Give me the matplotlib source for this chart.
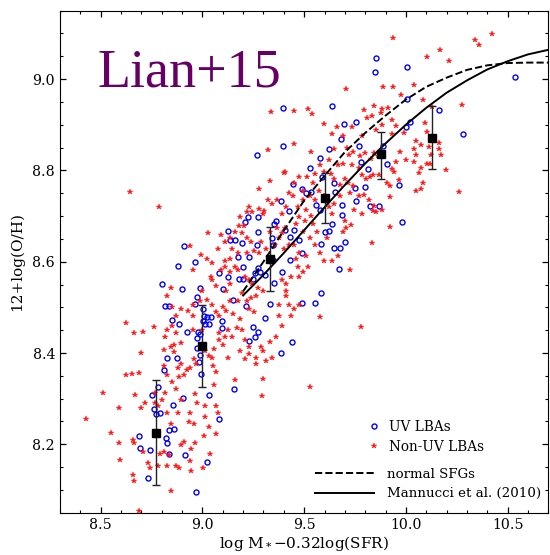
import matplotlib
matplotlib.use('Agg')
import matplotlib.pyplot as plt
from matplotlib.ticker import MultipleLocator

plt.rcParams['font.family'] = 'serif'
plt.rcParams['font.serif'] = ['DejaVu Serif']
plt.rcParams['mathtext.fontset'] = 'dejavuserif'

# UV LBAs (blue open circles)
uv_x = [9.855, 9.847, 10.004, 10.538, 9.638, 9.396, 10.007, 10.165, 9.756, 9.698,
        9.999, 10.018, 10.281, 9.679, 9.396, 9.769, 9.887, 9.624, 9.576, 9.266,
        9.780, 9.907, 9.816, 9.527, 9.799, 9.590, 9.645, 9.968, 9.751, 9.444,
        9.487, 9.511, 9.533, 9.650, 9.557, 9.580, 9.687, 9.754, 9.824, 9.870,
        9.388, 9.274, 9.224, 9.210, 9.427, 9.362, 9.352, 9.408, 9.448, 9.639,
        9.687, 9.982, 9.124, 9.134, 9.162, 9.193, 9.429, 9.477, 9.621, 9.604,
        9.340, 9.274, 9.269, 9.699, 9.585, 9.645, 9.674, 9.491, 9.348, 8.912,
        8.962, 8.882, 9.174, 9.231, 9.272, 9.285, 9.258, 9.392, 9.432, 9.672,
        9.345, 9.200, 9.126, 9.179, 9.306, 9.200, 9.249, 9.350, 8.803, 9.080,
        9.100, 8.900, 8.986, 8.974, 9.583, 9.148, 9.213, 9.331, 9.487, 9.554,
        8.818, 8.834, 8.963, 9.003, 9.010, 9.025, 9.041, 8.849, 9.309, 9.001,
        9.015, 9.095, 9.032, 9.095, 8.883, 8.926, 9.251, 9.274, 9.259, 8.977,
        8.989, 8.972, 9.231, 9.439, 8.825, 8.873, 8.974, 8.986, 8.981, 9.386,
        8.813, 8.994, 8.784, 9.157, 8.753, 9.034, 8.907, 8.763, 8.856, 8.772,
        8.794, 9.080, 8.835, 8.859, 8.822, 8.828, 8.686, 8.692, 8.743, 8.834,
        8.914, 9.024, 8.731, 8.967]
uv_y = [9.045, 9.015, 9.026, 9.005, 8.942, 8.936, 8.956, 8.932, 8.907, 8.901,
        8.896, 8.905, 8.880, 8.868, 8.854, 8.854, 8.854, 8.847, 8.826, 8.833,
        8.818, 8.815, 8.804, 8.805, 8.763, 8.786, 8.772, 8.768, 8.762, 8.770,
        8.759, 8.751, 8.752, 8.752, 8.725, 8.713, 8.725, 8.733, 8.721, 8.721,
        8.733, 8.697, 8.698, 8.687, 8.710, 8.689, 8.683, 8.669, 8.670, 8.683,
        8.703, 8.687, 8.668, 8.648, 8.648, 8.642, 8.653, 8.648, 8.668, 8.665,
        8.651, 8.664, 8.637, 8.644, 8.639, 8.630, 8.630, 8.620, 8.637, 8.635,
        8.600, 8.591, 8.610, 8.610, 8.587, 8.578, 8.576, 8.578, 8.604, 8.583,
        8.604, 8.588, 8.566, 8.562, 8.570, 8.561, 8.561, 8.553, 8.552, 8.575,
        8.540, 8.540, 8.543, 8.523, 8.532, 8.517, 8.503, 8.507, 8.509, 8.509,
        8.503, 8.503, 8.507, 8.497, 8.482, 8.478, 8.478, 8.473, 8.477, 8.471,
        8.463, 8.470, 8.463, 8.455, 8.463, 8.446, 8.457, 8.445, 8.436, 8.446,
        8.442, 8.432, 8.426, 8.424, 8.390, 8.390, 8.410, 8.396, 8.380, 8.400,
        8.363, 8.353, 8.326, 8.322, 8.307, 8.308, 8.302, 8.277, 8.287, 8.266,
        8.268, 8.255, 8.232, 8.234, 8.214, 8.204, 8.218, 8.191, 8.188, 8.179,
        8.176, 8.162, 8.127, 8.096]

# Non-UV LBAs (red stars)
nuv_x = [10.421, 10.339, 10.358, 9.935, 10.168, 10.106, 10.213, 10.041, 9.935, 9.887,
         9.704, 10.274, 9.976, 10.082, 10.127, 9.520, 9.452, 9.337, 9.540, 9.597,
         9.793, 9.845, 9.884, 9.879, 9.913, 9.930, 9.663, 9.734, 9.811, 9.833,
         9.853, 9.884, 9.953, 10.093, 10.106, 9.932, 9.990, 9.636, 9.691, 9.785,
         9.322, 9.452, 10.050, 10.076, 10.113, 9.973, 10.038, 10.050, 10.165, 10.161,
         10.172, 10.122, 9.536, 9.648, 9.713, 9.720, 9.742, 9.776, 9.797, 9.828,
         9.845, 9.862, 9.953, 9.999, 10.038, 10.076, 10.062, 10.196, 10.119, 10.102,
         9.622, 9.665, 9.691, 9.734, 9.768, 9.786, 9.802, 9.824, 9.838, 9.870,
         9.930, 9.942, 9.905, 9.922, 9.965, 10.050, 10.084, 10.076, 10.260, 9.922,
         9.884, 9.845, 9.922, 9.833, 9.725, 9.408, 9.452, 9.477, 9.494, 9.515,
         9.545, 9.554, 9.580, 9.597, 9.631, 9.648, 9.674, 9.699, 9.716, 9.742,
         9.725, 9.768, 9.793, 9.819, 9.836, 9.853, 9.785, 9.747, 9.699, 9.708,
         9.691, 9.730, 9.639, 9.622, 9.648, 9.674, 9.597, 9.571, 9.554, 9.528,
         9.494, 9.468, 9.511, 9.536, 9.443, 9.426, 9.409, 9.391, 9.477, 9.503,
         9.460, 9.494, 9.545, 9.562, 9.528, 9.554, 9.580, 9.597, 9.639, 9.665,
         9.614, 9.408, 9.391, 9.366, 9.331, 9.374, 9.357, 9.400, 9.426, 9.452,
         9.477, 9.460, 9.511, 9.468, 9.494, 9.520, 9.477, 9.434, 9.409, 9.391,
         9.409, 9.409, 9.374, 9.426, 9.452, 9.477, 9.434, 9.529, 9.580, 9.780,
         9.331, 9.366, 9.340, 9.322, 9.305, 9.280, 9.297, 9.228, 9.245, 9.219,
         9.186, 9.204, 9.180, 9.160, 9.134, 9.109, 9.092, 9.194, 9.219, 9.237,
         9.288, 9.314, 9.280, 9.254, 9.219, 9.143, 9.177, 9.134, 9.109, 9.160,
         9.177, 9.134, 9.211, 9.228, 9.245, 9.271, 9.297, 9.263, 9.237, 9.219,
         9.194, 9.177, 9.228, 9.254, 9.134, 9.118, 9.134, 9.100, 9.049, 9.041,
         9.066, 9.027, 8.994, 9.024, 9.049, 9.075, 9.092, 9.109, 8.953, 8.939,
         8.996, 8.987, 8.953, 9.024, 9.049, 9.066, 9.084, 9.118, 9.152, 9.186,
         9.169, 9.126, 9.109, 9.143, 9.100, 9.194, 9.211, 9.228, 9.186, 9.228,
         9.263, 9.288, 9.211, 9.297, 9.314, 9.340, 9.331, 9.263, 9.297, 9.294,
         9.362, 9.374, 9.391, 9.080, 9.084, 9.058, 9.049, 9.032, 9.015, 9.053,
         9.066, 9.126, 9.160, 8.958, 8.967, 8.941, 8.924, 8.895, 8.878, 8.861,
         8.887, 8.912, 8.895, 8.870, 8.852, 8.827, 8.818, 8.844, 8.810, 8.861,
         8.895, 8.870, 8.852, 8.930, 8.955, 8.998, 8.955, 8.844, 8.827, 8.963,
         8.972, 9.015, 8.941, 8.932, 8.958, 9.015, 9.032, 9.006, 9.058, 9.066,
         9.075, 9.066, 9.037, 8.963, 8.946, 8.912, 8.895, 8.941, 8.946, 9.003,
         8.870, 8.887, 8.827, 8.835, 8.847, 8.810, 8.878, 8.895, 8.870, 8.852,
         8.827, 8.810, 8.801, 8.818, 8.784, 8.827, 8.844, 8.767, 8.767, 8.791,
         8.784, 8.741, 8.734, 8.698, 8.707, 8.763, 8.656, 8.625, 8.667, 8.690,
         8.663, 8.625, 8.644, 8.787, 8.514, 8.591, 8.430, 8.553, 8.591, 8.596,
         8.659, 8.664, 8.716, 8.698, 8.657, 8.663, 8.690, 8.710, 9.401, 9.280]
nuv_y = [9.098, 9.086, 9.074, 9.089, 9.064, 9.049, 9.040, 8.988, 8.982, 8.982,
         8.978, 8.943, 8.966, 8.954, 8.938, 8.934, 8.930, 8.928, 8.923, 8.902,
         8.933, 8.942, 8.934, 8.925, 8.937, 8.911, 8.896, 8.896, 8.915, 8.919,
         8.888, 8.899, 8.897, 8.903, 8.884, 8.880, 8.882, 8.880, 8.876, 8.875,
         8.844, 8.857, 8.865, 8.856, 8.851, 8.841, 8.846, 8.834, 8.846, 8.861,
         8.834, 8.834, 8.841, 8.846, 8.850, 8.834, 8.841, 8.831, 8.838, 8.825,
         8.837, 8.831, 8.819, 8.823, 8.818, 8.805, 8.795, 8.801, 8.815, 8.813,
         8.823, 8.812, 8.815, 8.812, 8.806, 8.789, 8.781, 8.785, 8.790, 8.789,
         8.802, 8.796, 8.773, 8.766, 8.779, 8.754, 8.773, 8.760, 8.752, 8.741,
         8.713, 8.722, 8.677, 8.641, 8.582, 8.796, 8.773, 8.785, 8.754, 8.785,
         8.773, 8.792, 8.811, 8.796, 8.792, 8.781, 8.769, 8.781, 8.773, 8.766,
         8.750, 8.743, 8.746, 8.735, 8.712, 8.708, 8.704, 8.713, 8.689, 8.674,
         8.666, 8.681, 8.704, 8.720, 8.727, 8.743, 8.743, 8.754, 8.735, 8.743,
         8.735, 8.720, 8.713, 8.701, 8.743, 8.750, 8.720, 8.704, 8.697, 8.689,
         8.682, 8.666, 8.682, 8.666, 8.651, 8.636, 8.620, 8.601, 8.601, 8.612,
         8.651, 8.674, 8.662, 8.674, 8.666, 8.651, 8.636, 8.628, 8.636, 8.636,
         8.620, 8.605, 8.612, 8.589, 8.578, 8.589, 8.566, 8.566, 8.551, 8.559,
         8.536, 8.524, 8.505, 8.505, 8.497, 8.505, 8.482, 8.325, 8.478, 8.457,
         8.776, 8.735, 8.727, 8.735, 8.712, 8.716, 8.704, 8.720, 8.708, 8.708,
         8.697, 8.678, 8.678, 8.666, 8.651, 8.643, 8.658, 8.662, 8.651, 8.643,
         8.643, 8.628, 8.620, 8.624, 8.620, 8.628, 8.620, 8.605, 8.601, 8.589,
         8.582, 8.578, 8.566, 8.559, 8.551, 8.543, 8.536, 8.524, 8.520, 8.513,
         8.532, 8.513, 8.497, 8.490, 8.551, 8.536, 8.513, 8.501, 8.559, 8.566,
         8.547, 8.662, 8.614, 8.605, 8.597, 8.628, 8.582, 8.589, 8.582, 8.635,
         8.536, 8.513, 8.505, 8.517, 8.505, 8.490, 8.482, 8.493, 8.486, 8.474,
         8.455, 8.451, 8.436, 8.436, 8.417, 8.451, 8.428, 8.413, 8.405, 8.398,
         8.390, 8.413, 8.386, 8.405, 8.382, 8.390, 8.425, 8.375, 8.344, 8.306,
         8.436, 8.482, 8.459, 8.444, 8.428, 8.409, 8.390, 8.394, 8.405, 8.371,
         8.359, 8.390, 8.341, 8.386, 8.375, 8.367, 8.363, 8.375, 8.367, 8.402,
         8.348, 8.352, 8.421, 8.444, 8.459, 8.451, 8.436, 8.413, 8.407, 8.417,
         8.497, 8.482, 8.501, 8.493, 8.482, 8.451, 8.451, 8.543, 8.524, 8.310,
         8.291, 8.284, 8.268, 8.249, 8.245, 8.260, 8.237, 8.218, 8.329, 8.284,
         8.268, 8.222, 8.179, 8.202, 8.190, 8.206, 8.199, 8.164, 8.141, 8.149,
         8.153, 8.149, 8.153, 8.176, 8.097, 8.184, 8.268, 8.298, 8.321, 8.336,
         8.352, 8.371, 8.298, 8.313, 8.283, 8.268, 8.245, 8.313, 8.290, 8.179,
         8.153, 8.149, 8.160, 8.400, 8.446, 8.457, 8.355, 8.351, 8.307, 8.357,
         8.444, 8.465, 8.752, 8.719, 8.313, 8.280, 8.256, 8.225, 8.202, 8.166,
         8.209, 8.202, 8.290, 8.279, 8.133, 8.120, 8.053, 8.183, 8.795, 8.759]

# binned medians with error bars
bin_x = [8.77, 9.00, 9.33, 9.60, 9.88, 10.13]
bin_y = [8.225, 8.415, 8.605, 8.740, 8.835, 8.870]
bin_lo = [0.115, 0.090, 0.070, 0.055, 0.055, 0.068]
bin_hi = [0.115, 0.090, 0.070, 0.055, 0.050, 0.070]

# normal SFGs (dashed)
sfg_x = [9.2, 9.3, 9.4, 9.5, 9.6, 9.7, 9.8, 9.9, 10.0, 10.1, 10.2, 10.3, 10.4, 10.5, 10.6, 10.7]
sfg_y = [8.535, 8.600, 8.668, 8.734, 8.788, 8.840, 8.882, 8.920, 8.955, 8.983, 9.003, 9.020,
         9.030, 9.035, 9.036, 9.036]

# Mannucci et al. (2010) (solid)
man_x = [9.2, 9.3, 9.4, 9.5, 9.6, 9.7, 9.8, 9.9, 10.0, 10.1, 10.2, 10.3, 10.4, 10.5, 10.6, 10.7]
man_y = [8.526, 8.571, 8.619, 8.669, 8.719, 8.768, 8.815, 8.859, 8.900, 8.937, 8.970,
         8.997, 9.021, 9.039, 9.054, 9.064]

fig = plt.figure(figsize=(5.5, 5.55), dpi=100)
ax = fig.add_axes([0.109, 0.076, 0.888, 0.905])

h_uv, = ax.plot(uv_x, uv_y, 'o', mfc='none', mec='#0000ff', ms=3.6, mew=1.0,
                linestyle='none', label='UV LBAs')
h_nuv, = ax.plot(nuv_x, nuv_y, '*', color='#ff1a1a', ms=4.0, mew=0.3,
                 linestyle='none', label='Non-UV LBAs')

h_sfg, = ax.plot(sfg_x, sfg_y, 'k--', lw=1.4, label='normal SFGs')
h_man, = ax.plot(man_x, man_y, 'k-', lw=1.4, label='Mannucci et al. (2010)')

ax.errorbar(bin_x, bin_y, yerr=[bin_lo, bin_hi], fmt='s', color='k', ms=6,
            ecolor='#222222', elinewidth=1.0, capsize=3.2, capthick=1.0, zorder=5)

ax.set_xlim(8.3, 10.7)
ax.set_ylim(8.05, 9.15)
ax.xaxis.set_major_locator(MultipleLocator(0.5))
ax.xaxis.set_minor_locator(MultipleLocator(0.1))
ax.yaxis.set_major_locator(MultipleLocator(0.2))
ax.yaxis.set_minor_locator(MultipleLocator(0.05))
ax.tick_params(which='both', direction='in', top=True, right=True, labelsize=10.2)
ax.tick_params(which='major', length=4.5, width=0.9)
ax.tick_params(which='minor', length=2.5, width=0.8)

ax.set_xlabel(r'log M$_*$$-$0.32log(SFR)', fontsize=11, labelpad=2)
ax.set_ylabel('12+log(O/H)', fontsize=11, labelpad=6)

ax.text(0.077, 0.848, 'Lian+15', transform=ax.transAxes, fontsize=39,
        family='Liberation Serif', color='#660066', ha='left', va='baseline')

leg1 = ax.legend(handles=[h_uv, h_nuv], loc='upper left', bbox_to_anchor=(0.626, 0.185),
                 frameon=False, numpoints=1, fontsize=9.8, handlelength=1.2,
                 handletextpad=0.5, borderpad=0, borderaxespad=0, labelspacing=0.45)
ax.add_artist(leg1)
ax.legend(handles=[h_sfg, h_man], loc='upper left', bbox_to_anchor=(0.522, 0.090),
          frameon=False, fontsize=9.6, handlelength=4.4, handletextpad=1.0,
          borderpad=0, borderaxespad=0, labelspacing=0.5)

fig.savefig('out.png', dpi=100)
